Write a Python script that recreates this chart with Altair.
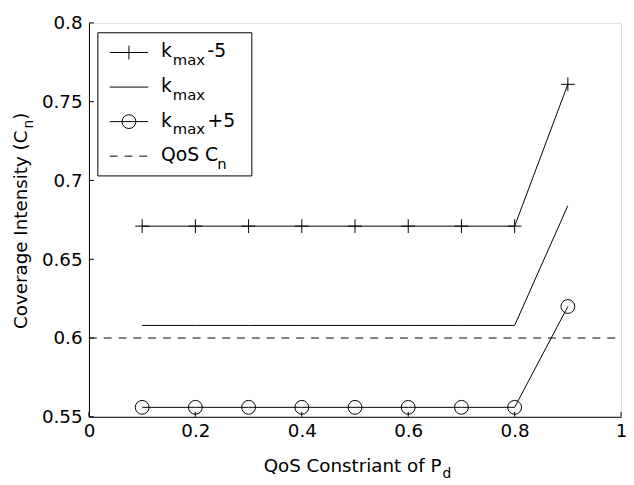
import altair as alt
import pandas as pd

# ---------------- data ----------------
pd_constraint = [0.1, 0.2, 0.3, 0.4, 0.5, 0.6, 0.7, 0.8, 0.9]
kmax_minus5 = [0.671, 0.671, 0.671, 0.671, 0.671, 0.671, 0.671, 0.671, 0.761]
kmax = [0.608, 0.608, 0.608, 0.608, 0.608, 0.608, 0.608, 0.608, 0.684]
kmax_plus5 = [0.556, 0.556, 0.556, 0.556, 0.556, 0.556, 0.556, 0.556, 0.620]
qos_x = [0.0, 1.0]
qos_cn = [0.6, 0.6]
x_ticks = [0, 0.2, 0.4, 0.6, 0.8, 1]
y_ticks = [0.55, 0.6, 0.65, 0.7, 0.75, 0.8]

W, H = 539, 399
FONT = "DejaVu Sans"
FS = 18.5

xs = alt.Scale(domain=[0, 1], nice=False, zero=False)
ys = alt.Scale(domain=[0.55, 0.8], nice=False, zero=False)

axX = alt.Axis(values=x_ticks, format="~g", ticks=False, grid=False, title=None,
               domainColor="black", domainWidth=1, labelColor="black", labelFont=FONT,
               labelFontSize=FS, labelPadding=5, labelFlush=False)
axY = alt.Axis(values=y_ticks, format="~g", ticks=False, grid=False, title=None,
               domainColor="black", domainWidth=1, labelColor="black", labelFont=FONT,
               labelFontSize=FS, labelPadding=7, labelFlush=False)

def series_df(name, vals):
    return pd.DataFrame({"x": pd_constraint, "y": vals, "s": name})

df_m5 = series_df("kmax-5", kmax_minus5)
df_k = series_df("kmax", kmax)
df_p5 = series_df("kmax+5", kmax_plus5)
df_lines = pd.concat([df_m5, df_k, df_p5])
df_qos = pd.DataFrame({"x": qos_x, "y": qos_cn})
df_xt = pd.DataFrame({"x": x_ticks})
df_yt = pd.DataFrame({"y": y_ticks})
one = pd.DataFrame({"a": [0]})

PLUS = "M-1,0L1,0M0,-1L0,1"

X = alt.X("x:Q", scale=xs, axis=axX)
Y = alt.Y("y:Q", scale=ys, axis=axY)

lines = alt.Chart(df_lines).mark_line(color="black", strokeWidth=1).encode(
    x=X, y=Y, detail="s:N")

qos = alt.Chart(df_qos).mark_line(color="black", strokeWidth=1, strokeDash=[8, 7]).encode(
    x=X, y=Y)

plus_pts = alt.Chart(df_m5).mark_point(shape=PLUS, size=196, filled=False,
                                       color="black", strokeWidth=1, opacity=1).encode(x=X, y=Y)

circ_pts = alt.Chart(df_p5).mark_point(shape="circle", size=196, filled=False,
                                       color="black", strokeWidth=1, opacity=1).encode(x=X, y=Y)

# inward ticks
xtick = alt.Chart(df_xt).mark_rule(color="black", strokeWidth=1).encode(
    x=X, y=alt.value(H), y2=alt.value(H - 5))
ytick = alt.Chart(df_yt).mark_rule(color="black", strokeWidth=1).encode(
    y=Y, x=alt.value(0), x2=alt.value(5))

def txt(s, x, y, size=FS, dx=0, dy=0, angle=0, align="left"):
    props = dict(font=FONT, fontSize=size, color="black", align=align,
                 baseline="alphabetic", dx=dx, dy=dy, text=s)
    if angle:
        props["angle"] = angle
    return alt.Chart(one).mark_text(**props).encode(x=alt.value(x), y=alt.value(y))

# axis titles
xt_x, xt_y = 177, 455
xtitle = [
    txt("QoS Constriant of P", xt_x, xt_y),
    txt("d", xt_x, xt_y, size=14, dx=181, dy=6),
]
yt_x, yt_y = -63, 310
ytitle = [
    txt("Coverage Intensity (C", yt_x, yt_y, angle=270),
    txt("n", yt_x, yt_y, size=14, dx=203, dy=6, angle=270),
    txt(")", yt_x, yt_y, angle=270, dx=212),
]

# legend
LX0, LX1, LY0, LY1 = 9, 165, 10, 155
box = alt.Chart(one).mark_rect(fill="white", stroke="black", strokeWidth=1).encode(
    x=alt.value(LX0), x2=alt.value(LX1), y=alt.value(LY0), y2=alt.value(LY1))
rows = [30, 65, 100, 135]
sx0, sx1, smid, tx = 21, 60, 40.5, 73
LF = 19
SF = 15
leg = [box]
for i, r in enumerate(rows):
    if i < 3:
        leg.append(alt.Chart(one).mark_rule(color="black", strokeWidth=1).encode(
            x=alt.value(sx0), x2=alt.value(sx1), y=alt.value(r)))
    else:
        leg.append(alt.Chart(one).mark_rule(color="black", strokeWidth=1, strokeDash=[8, 7]).encode(
            x=alt.value(sx0), x2=alt.value(sx1 + 4), y=alt.value(r)))
leg.append(alt.Chart(one).mark_point(shape=PLUS, size=196, filled=False, color="black",
                                     strokeWidth=1, opacity=1).encode(
    x=alt.value(smid), y=alt.value(rows[0])))
leg.append(alt.Chart(one).mark_point(shape="circle", size=196, filled=False, color="black",
                                     strokeWidth=1, opacity=1).encode(
    x=alt.value(smid), y=alt.value(rows[2])))
for i, suffix in enumerate(["-5", "", "+5"]):
    r = rows[i]
    leg.append(txt("k", tx, r + 5, size=LF))
    leg.append(txt("max", tx, r + 13, size=SF, dx=12))
    if suffix:
        leg.append(txt(suffix, tx, r + 5, size=LF, dx=47))
leg.append(txt("QoS C", tx, rows[3] + 5, size=LF))
leg.append(txt("n", tx, rows[3] + 13, size=SF, dx=57))

chart = alt.layer(
    lines, qos, plus_pts, circ_pts, xtick, ytick, *xtitle, *ytitle, *leg
).properties(
    width=W, height=H,
    autosize=alt.AutoSizeParams(type="none"),
    padding={"left": 82, "top": 12, "right": 5, "bottom": 66},
).configure_view(stroke=None).configure(background="white")

chart.save("out.html", embed_options={"renderer": "svg", "actions": False})
